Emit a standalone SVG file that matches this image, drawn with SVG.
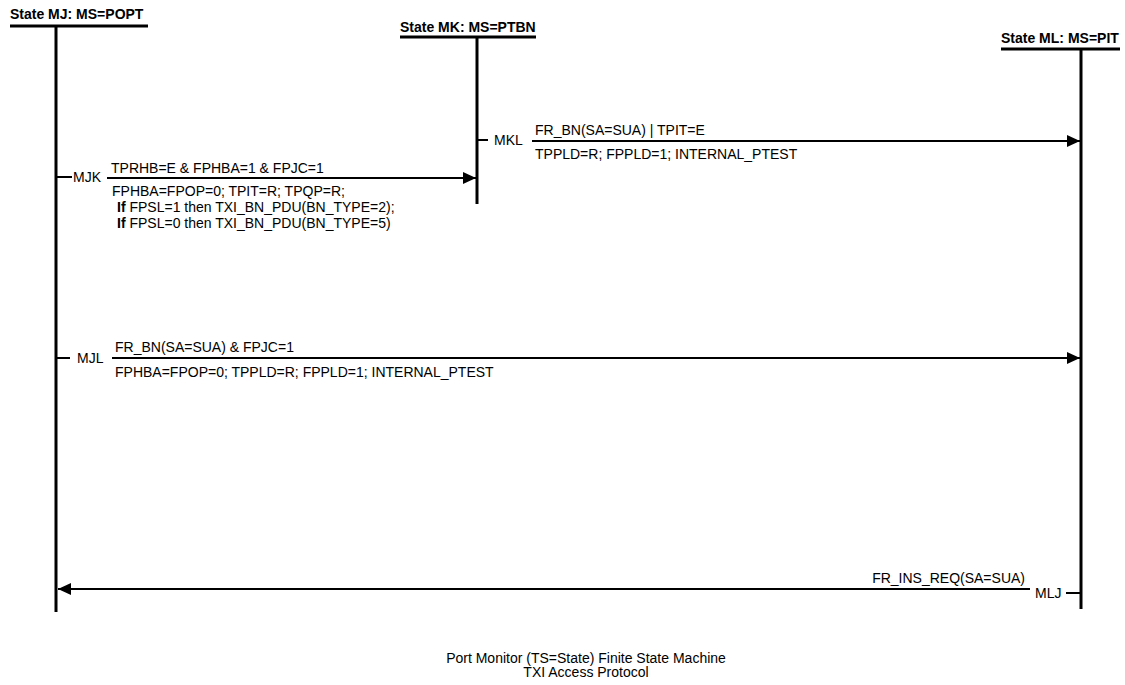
<svg xmlns="http://www.w3.org/2000/svg" width="1125" height="685" viewBox="0 0 1125 685">
<style>
text{font-family:"Liberation Sans",Arial,sans-serif;font-size:14px;fill:#000}
.h{font-weight:bold}
.life{stroke:#000;stroke-width:3;fill:none}
.bar{stroke:#000;stroke-width:3;fill:none}
.msg{stroke:#000;stroke-width:2;fill:none}
.tick{stroke:#000;stroke-width:2;fill:none}
</style>
<defs>
<marker id="ah" markerWidth="13" markerHeight="12" refX="13" refY="6" orient="auto" markerUnits="userSpaceOnUse">
<path d="M0,0 L13,6 L0,12 Z" fill="#000"/>
</marker>
</defs>
<g id="stateMJ">
<text class="h" x="10" y="19">State MJ: MS=POPT</text>
<line class="bar" x1="10" y1="26" x2="148" y2="26"/>
<line class="life" x1="56" y1="26" x2="56" y2="612"/>
</g>
<g id="stateMK">
<text class="h" x="400" y="32">State MK: MS=PTBN</text>
<line class="bar" x1="400" y1="37" x2="536" y2="37"/>
<line class="life" x1="477" y1="37" x2="477" y2="204"/>
</g>
<g id="stateML">
<text class="h" x="1001" y="43">State ML: MS=PIT</text>
<line class="bar" x1="1001" y1="49" x2="1120" y2="49"/>
<line class="life" x1="1081" y1="49" x2="1081" y2="609"/>
</g>
<g id="connectors">
<g id="MKL">
<line class="tick" x1="477" y1="140" x2="488" y2="140"/>
<text x="494" y="145">MKL</text>
<line class="msg" x1="532" y1="141" x2="1080" y2="141" marker-end="url(#ah)"/>
<text x="535" y="135">FR_BN(SA=SUA) | TPIT=E</text>
<text x="535" y="159">TPPLD=R; FPPLD=1; INTERNAL_PTEST</text>
</g>
<g id="MJK">
<line class="tick" x1="56" y1="177" x2="72" y2="177"/>
<text x="73" y="182">MJK</text>
<line class="msg" x1="107" y1="178" x2="476" y2="178" marker-end="url(#ah)"/>
<text x="111" y="173">TPRHB=E &amp; FPHBA=1 &amp; FPJC=1</text>
<text x="112" y="196">FPHBA=FPOP=0; TPIT=R; TPQP=R;</text>
<text x="117" y="212"><tspan class="h">If</tspan> FPSL=1 then TXI_BN_PDU(BN_TYPE=2);</text>
<text x="117" y="228"><tspan class="h">If</tspan> FPSL=0 then TXI_BN_PDU(BN_TYPE=5)</text>
</g>
<g id="MJL">
<line class="tick" x1="56" y1="358" x2="70" y2="358"/>
<text x="77" y="363">MJL</text>
<line class="msg" x1="112" y1="358" x2="1080" y2="358" marker-end="url(#ah)"/>
<text x="115" y="352">FR_BN(SA=SUA) &amp; FPJC=1</text>
<text x="115" y="377">FPHBA=FPOP=0; TPPLD=R; FPPLD=1; INTERNAL_PTEST</text>
</g>
<g id="MLJ">
<line class="tick" x1="1066" y1="593" x2="1081" y2="593"/>
<text x="1035" y="598">MLJ</text>
<line class="msg" x1="1030" y1="589" x2="58" y2="589" marker-end="url(#ah)"/>
<text x="1025" y="583" text-anchor="end">FR_INS_REQ(SA=SUA)</text>
</g>
</g>
<g id="caption">
<text x="586" y="663" text-anchor="middle">Port Monitor (TS=State) Finite State Machine</text>
<text x="586" y="677" text-anchor="middle">TXI Access Protocol</text>
</g>
</svg>
